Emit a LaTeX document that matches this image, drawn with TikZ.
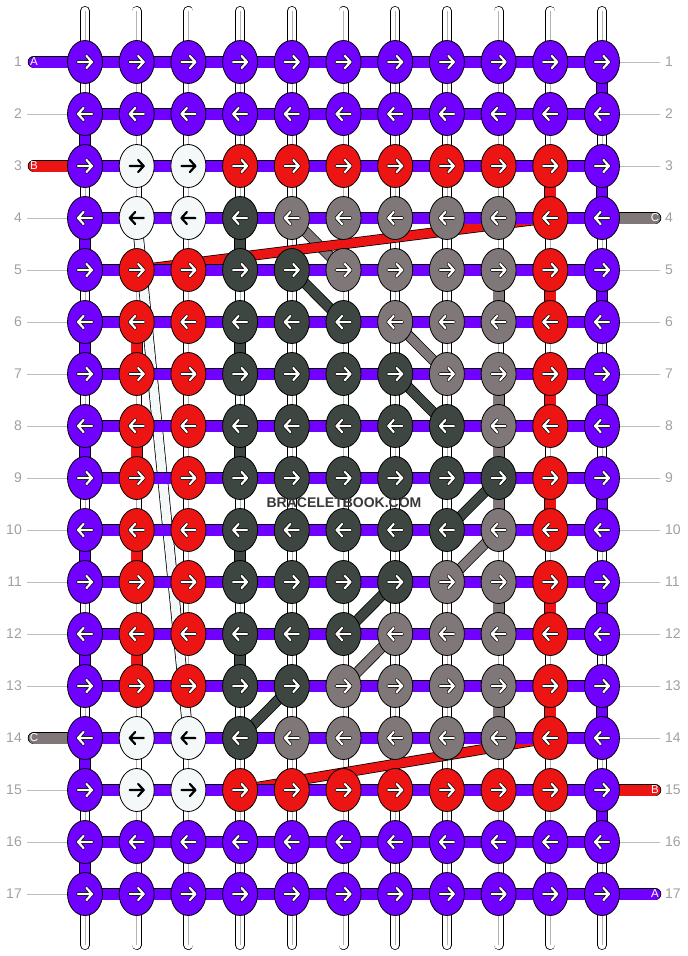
\documentclass[tikz,border=0pt]{standalone}
\usepackage{fontspec}
\setmainfont{Liberation Sans}
\usetikzlibrary{shapes.geometric}

\definecolor{kv}{RGB}{112,0,255}
\definecolor{kr}{RGB}{237,20,20}
\definecolor{kd}{RGB}{62,70,66}
\definecolor{kg}{RGB}{128,120,120}
\definecolor{kw}{RGB}{244,248,248}
\definecolor{zahl}{RGB}{160,160,160}
\colorlet{kv-pf}{white}\colorlet{kr-pf}{white}\colorlet{kd-pf}{white}
\colorlet{kg-pf}{white}\colorlet{kw-pf}{black}
\colorlet{kv-rd}{black}\colorlet{kr-rd}{black}\colorlet{kd-rd}{black}
\colorlet{kg-rd}{black}\colorlet{kw-rd}{kw}

\tikzset{
  knoten/.style={ellipse,draw=black,line width=0.8pt,fill=#1,minimum width=35pt,minimum height=43pt,inner sep=0pt},
  grund/.style={draw=black,line width=0.75pt,double=white,double distance=8.5pt,line cap=round},
  mitte/.style={draw=black!30,line width=0.6pt},
  faden/.style={draw=black,line width=0.75pt,double=#1,double distance=10.5pt},
  quer/.style={draw=black,line width=0.75pt,double=kv,double distance=11pt},
  ende/.style={draw=black,line width=0.75pt,double=#1,double distance=11pt,line cap=round},
  schraeg/.style={draw=black,line width=0.75pt,double=#1,double distance=9pt},
  etikett/.style={text=white,font=\fontsize{11.5}{11.5}\selectfont,inner sep=0pt},
  nummer/.style={text=zahl,font=\fontsize{14}{14}\selectfont,inner sep=0pt},
  zahlstrich/.style={draw=zahl!70,line width=0.8pt},
  pfeilrand/.style={draw=#1,line width=3.6pt,line cap=round,line join=round},
  pfeil/.style={draw=#1,line width=2.2pt,line cap=round,line join=round}
}

\begin{document}
\begin{tikzpicture}[x=1pt,y=-1pt]
\useasboundingbox (0,0) rectangle (688,956);

% Raster der Knoten
\foreach \r in {1,...,17}
  \foreach \c in {1,...,11}
    \coordinate (p-\r-\c) at ({85+(\c-1)*51.7},{62+(\r-1)*52});
\foreach \c in {1,...,11} {
  \coordinate (oben-\c) at ({85+(\c-1)*51.7},11);
  \coordinate (unten-\c) at ({85+(\c-1)*51.7},945);
}

% Grundfaeden
\foreach \c in {1,...,11} {
  \draw[grund] (oben-\c) -- (unten-\c);
  \draw[mitte] (oben-\c) -- (unten-\c);
}

% farbige senkrechte Stuecke
\foreach \c/\f/\rs in {1/kv/{2,4,6,8,10,12,14,16},11/kv/{1,3,5,7,9,11,13,15},
    10/kr/{3,5,7,9,11,13},2/kr/{6,8,10,12},4/kd/{4,6,8,10,12},9/kg/{5,7,8,9,11,13}}
  \foreach \r in \rs {
    \pgfmathtruncatemacro\s{\r+1}
    \draw[faden=\f] (p-\r-\c) -- (p-\s-\c);
  }

% schraege Faeden
\draw[schraeg=kw] (p-4-2) -- (p-14-3);
\foreach \a/\b/\f in {4-5/5-6/kg,6-7/7-8/kg,5-5/6-6/kd,7-7/8-8/kd,
    9-9/10-8/kd,11-7/12-6/kd,13-5/14-4/kd,10-9/11-8/kg,12-7/13-6/kg}
  \draw[schraeg=\f] (p-\a) -- (p-\b);
\draw[schraeg=kr] (p-4-10) -- (p-5-2);
\draw[schraeg=kr] (p-14-10) -- (p-15-4);

% waagrechte Faeden
\foreach \r in {1,...,17}
  \draw[quer] (p-\r-1) -- (p-\r-11);

% Enden
\coordinate (links-1) at (34,62);
\coordinate (links-3) at (34,166);
\coordinate (links-14) at (34,738);
\coordinate (rechts-4) at (655,218);
\coordinate (rechts-15) at (655,790);
\coordinate (rechts-17) at (655,894);
\draw[ende=kv] (p-1-1) -- (links-1) node[etikett] {A};
\draw[ende=kr] (p-3-1) -- (links-3) node[etikett] {B};
\draw[ende=kg] (p-14-1) -- (links-14) node[etikett] {C};
\draw[ende=kg] (p-4-11) -- (rechts-4) node[etikett] {C};
\draw[ende=kr] (p-15-11) -- (rechts-15) node[etikett] {B};
\draw[ende=kv] (p-17-11) -- (rechts-17) node[etikett] {A};

% Knoten mit Pfeilen
\foreach \r/\reihe in {
    1/{kv,kv,kv,kv,kv,kv,kv,kv,kv,kv,kv},
    2/{kv,kv,kv,kv,kv,kv,kv,kv,kv,kv,kv},
    3/{kv,kw,kw,kr,kr,kr,kr,kr,kr,kr,kv},
    4/{kv,kw,kw,kd,kg,kg,kg,kg,kg,kr,kv},
    5/{kv,kr,kr,kd,kd,kg,kg,kg,kg,kr,kv},
    6/{kv,kr,kr,kd,kd,kd,kg,kg,kg,kr,kv},
    7/{kv,kr,kr,kd,kd,kd,kd,kg,kg,kr,kv},
    8/{kv,kr,kr,kd,kd,kd,kd,kd,kg,kr,kv},
    9/{kv,kr,kr,kd,kd,kd,kd,kd,kd,kr,kv},
    10/{kv,kr,kr,kd,kd,kd,kd,kd,kg,kr,kv},
    11/{kv,kr,kr,kd,kd,kd,kd,kg,kg,kr,kv},
    12/{kv,kr,kr,kd,kd,kd,kg,kg,kg,kr,kv},
    13/{kv,kr,kr,kd,kd,kg,kg,kg,kg,kr,kv},
    14/{kv,kw,kw,kd,kg,kg,kg,kg,kg,kr,kv},
    15/{kv,kw,kw,kr,kr,kr,kr,kr,kr,kr,kv},
    16/{kv,kv,kv,kv,kv,kv,kv,kv,kv,kv,kv},
    17/{kv,kv,kv,kv,kv,kv,kv,kv,kv,kv,kv}} {
  \ifodd\r \def\d{1}\else \def\d{-1}\fi
  \foreach \f [count=\c] in \reihe {
    \node[knoten=\f] (k-\r-\c) at (p-\r-\c) {};
    \draw[pfeilrand=\f-rd,shift={(p-\r-\c)},xscale=\d] (-7,0) -- (7,0) (1.5,-6) -- (7,0) -- (1.5,6);
    \draw[pfeil=\f-pf,shift={(p-\r-\c)},xscale=\d] (-7,0) -- (7,0) (1.5,-6) -- (7,0) -- (1.5,6);
  }
}

% Reihennummern
\foreach \r in {1,...,17} {
  \node[nummer,anchor=east] (nl-\r) at (22,{62+(\r-1)*52}) {\r};
  \node[nummer,anchor=west] (nr-\r) at (665,{62+(\r-1)*52}) {\r};
}
\foreach \r in {2,4,5,6,7,8,9,10,11,12,13,15,16,17}
  \draw[zahlstrich] ([xshift=5pt]nl-\r.east) -- (k-\r-1.west);
\foreach \r in {1,2,3,5,6,7,8,9,10,11,12,13,14,16}
  \draw[zahlstrich] (k-\r-11.east) -- ([xshift=-5pt]nr-\r.west);

\node[font=\bfseries\fontsize{14}{14}\selectfont,text=black!78] (marke) at (344,503) {BRACELETBOOK.COM};
\end{tikzpicture}
\end{document}
